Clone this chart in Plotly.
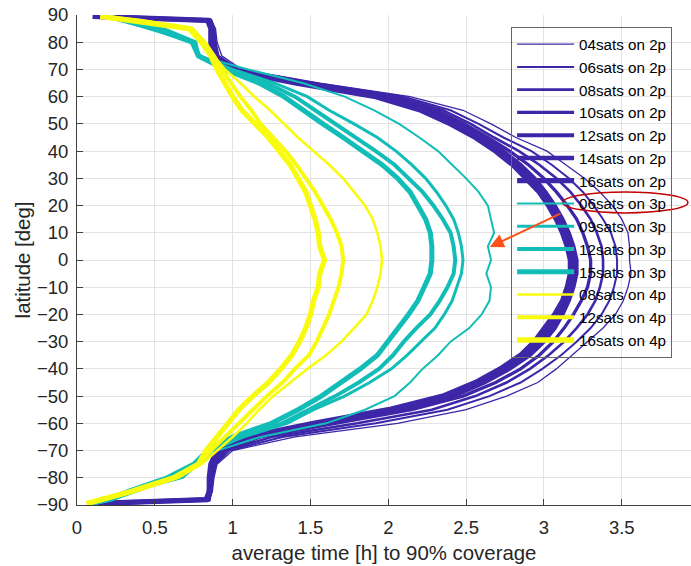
import plotly.graph_objects as go

LAT = [89.5, 88, 85, 80, 75, 70, 65, 60, 55, 50, 45, 40, 35, 30, 25, 20, 15, 10, 5, 0,
       -5, -10, -15, -20, -25, -30, -35, -40, -45, -50, -55, -60, -65, -70, -75, -80, -85, -88, -89.5]

NAMES = ["04sats on 2p", "06sats on 2p", "08sats on 2p", "10sats on 2p", "12sats on 2p",
         "14sats on 2p", "16sats on 2p", "06sats on 3p", "09sats on 3p", "12sats on 3p",
         "15sats on 3p", "08sats on 4p", "12sats on 4p", "16sats on 4p"]

p2_04 = [0.12, 0.86, 0.89, 0.90, 0.93, 1.06, 1.56, 2.14, 2.48, 2.66, 2.82, 3.02, 3.14, 3.26, 3.36, 3.44, 3.50, 3.54, 3.55, 3.55,
         3.56, 3.54, 3.51, 3.46, 3.38, 3.28, 3.18, 3.08, 2.96, 2.76, 2.50, 2.06, 1.40, 1.00, 0.90, 0.88, 0.87, 0.85, 0.10]
p2_06 = [0.12, 0.86, 0.88, 0.89, 0.91, 1.04, 1.53, 2.10, 2.40, 2.58, 2.74, 2.92, 3.05, 3.16, 3.25, 3.32, 3.38, 3.43, 3.46, 3.47,
         3.47, 3.45, 3.42, 3.37, 3.30, 3.21, 3.11, 2.99, 2.85, 2.65, 2.38, 1.92, 1.32, 0.98, 0.89, 0.87, 0.86, 0.85, 0.10]
p2_08 = [0.12, 0.86, 0.88, 0.89, 0.90, 1.02, 1.50, 2.06, 2.35, 2.53, 2.68, 2.84, 2.97, 3.08, 3.17, 3.24, 3.30, 3.34, 3.37, 3.38,
         3.38, 3.36, 3.33, 3.28, 3.21, 3.13, 3.03, 2.91, 2.76, 2.56, 2.28, 1.80, 1.25, 0.96, 0.89, 0.87, 0.86, 0.85, 0.10]
p2_10 = [0.12, 0.86, 0.88, 0.88, 0.89, 1.00, 1.48, 2.01, 2.31, 2.49, 2.64, 2.78, 2.90, 3.00, 3.08, 3.15, 3.21, 3.25, 3.28, 3.30,
         3.30, 3.28, 3.24, 3.19, 3.13, 3.06, 2.97, 2.85, 2.69, 2.48, 2.15, 1.66, 1.18, 0.94, 0.88, 0.87, 0.86, 0.85, 0.10]
p2_12 = [0.12, 0.85, 0.87, 0.87, 0.88, 0.98, 1.45, 1.97, 2.27, 2.45, 2.61, 2.74, 2.85, 2.94, 3.01, 3.07, 3.12, 3.16, 3.19, 3.21,
         3.21, 3.19, 3.16, 3.12, 3.07, 3.00, 2.91, 2.78, 2.62, 2.42, 2.07, 1.58, 1.13, 0.92, 0.87, 0.86, 0.86, 0.84, 0.10]
p2_14 = [0.11, 0.85, 0.87, 0.87, 0.88, 0.97, 1.43, 1.94, 2.24, 2.43, 2.58, 2.71, 2.82, 2.92, 2.99, 3.05, 3.10, 3.14, 3.17, 3.19,
         3.19, 3.17, 3.14, 3.10, 3.04, 2.97, 2.88, 2.75, 2.59, 2.38, 2.03, 1.55, 1.11, 0.91, 0.87, 0.86, 0.85, 0.84, 0.09]
p2_16 = [0.10, 0.84, 0.86, 0.86, 0.87, 0.96, 1.41, 1.92, 2.21, 2.40, 2.56, 2.69, 2.80, 2.89, 2.97, 3.03, 3.08, 3.12, 3.15, 3.17,
         3.17, 3.15, 3.12, 3.07, 3.01, 2.94, 2.85, 2.72, 2.56, 2.35, 2.00, 1.52, 1.09, 0.90, 0.86, 0.85, 0.85, 0.83, 0.09]

p3_06 = [0.22, 0.28, 0.45, 0.74, 0.78, 1.10, 1.45, 1.72, 1.91, 2.07, 2.20, 2.32, 2.41, 2.50, 2.58, 2.64, 2.66, 2.68, 2.64, 2.66,
         2.63, 2.66, 2.65, 2.60, 2.52, 2.40, 2.32, 2.22, 2.14, 2.04, 1.85, 1.60, 1.18, 0.90, 0.78, 0.68, 0.35, 0.22, 0.08]
p3_09 = [0.20, 0.30, 0.50, 0.75, 0.79, 1.00, 1.27, 1.48, 1.62, 1.78, 1.93, 2.05, 2.15, 2.24, 2.31, 2.37, 2.42, 2.45, 2.47, 2.48,
         2.47, 2.44, 2.41, 2.36, 2.30, 2.21, 2.12, 2.02, 1.88, 1.72, 1.52, 1.35, 1.07, 0.86, 0.77, 0.62, 0.38, 0.22, 0.10]
p3_12 = [0.20, 0.30, 0.55, 0.76, 0.78, 0.97, 1.22, 1.40, 1.53, 1.66, 1.80, 1.92, 2.04, 2.13, 2.22, 2.29, 2.35, 2.40, 2.42, 2.43,
         2.42, 2.38, 2.33, 2.27, 2.18, 2.10, 2.03, 1.94, 1.81, 1.66, 1.49, 1.32, 1.05, 0.86, 0.76, 0.60, 0.36, 0.22, 0.09]
p3_15 = [0.20, 0.30, 0.50, 0.74, 0.78, 0.95, 1.17, 1.33, 1.45, 1.58, 1.71, 1.84, 1.96, 2.06, 2.14, 2.19, 2.24, 2.27, 2.28, 2.28,
         2.27, 2.23, 2.19, 2.13, 2.06, 2.00, 1.93, 1.82, 1.70, 1.57, 1.42, 1.25, 1.00, 0.84, 0.75, 0.58, 0.33, 0.20, 0.08]

p4_08 = [0.15, 0.40, 0.73, 0.82, 0.88, 0.95, 1.05, 1.14, 1.24, 1.33, 1.42, 1.52, 1.62, 1.71, 1.78, 1.85, 1.90, 1.93, 1.95, 1.96,
         1.95, 1.93, 1.90, 1.86, 1.78, 1.70, 1.60, 1.48, 1.37, 1.26, 1.17, 1.09, 1.00, 0.90, 0.80, 0.65, 0.36, 0.18, 0.07]
p4_12 = [0.15, 0.40, 0.74, 0.82, 0.88, 0.93, 0.99, 1.05, 1.12, 1.18, 1.26, 1.34, 1.41, 1.47, 1.53, 1.58, 1.63, 1.67, 1.70, 1.71,
         1.70, 1.68, 1.65, 1.62, 1.58, 1.54, 1.49, 1.40, 1.32, 1.22, 1.13, 1.04, 0.95, 0.86, 0.78, 0.63, 0.36, 0.18, 0.07]
p4_16 = [0.15, 0.35, 0.72, 0.80, 0.86, 0.90, 0.95, 1.00, 1.06, 1.15, 1.23, 1.30, 1.37, 1.42, 1.47, 1.50, 1.53, 1.55, 1.56, 1.59,
         1.56, 1.55, 1.52, 1.50, 1.47, 1.43, 1.38, 1.31, 1.23, 1.13, 1.04, 0.97, 0.90, 0.83, 0.78, 0.62, 0.35, 0.15, 0.06]

SERIES = [p2_04, p2_06, p2_08, p2_10, p2_12, p2_14, p2_16, p3_06, p3_09, p3_12, p3_15, p4_08, p4_12, p4_16]

PURPLE = "#3E26A8"
TEAL = "#13BDB7"
YELLOW = "#F9FB0E"
COLORS = [PURPLE] * 7 + [TEAL] * 4 + [YELLOW] * 3
WIDTHS = [1.3, 2.0, 2.6, 3.3, 4.0, 4.6, 5.3, 2.0, 3.0, 4.0, 5.0, 2.6, 4.0, 5.3]

X_TICKS = [0, 0.5, 1, 1.5, 2, 2.5, 3, 3.5]
X_TICKTEXT = ["0", "0.5", "1", "1.5", "2", "2.5", "3", "3.5"]
Y_TICKS = list(range(-90, 91, 10))

FONT = "Liberation Sans, Arial, sans-serif"

fig = go.Figure()
for name, xs, c, w in zip(NAMES, SERIES, COLORS, WIDTHS):
    fig.add_trace(go.Scatter(x=xs, y=LAT, mode="lines", name=name,
                             line=dict(color=c, width=w)))

fig.update_layout(
    width=691, height=566,
    margin=dict(l=77, r=0, t=15, b=61),
    paper_bgcolor="white", plot_bgcolor="white",
    font=dict(family=FONT, color="#262626", size=18),
    showlegend=True,
    legend=dict(x=0.707, y=0.976, xanchor="left", yanchor="top",
                bgcolor="rgba(255,255,255,0)", bordercolor="#666666", borderwidth=1,
                font=dict(size=15.2, family=FONT, color="#000000"),
                tracegroupgap=0, itemwidth=57),
    xaxis=dict(range=[0, 3.945], tickvals=X_TICKS, ticktext=X_TICKTEXT,
               showgrid=True, gridcolor="#E3E3E3", gridwidth=1,
               showline=True, linecolor="#404040", linewidth=1, mirror=False,
               ticks="inside", ticklen=6, tickcolor="#404040", ticklabelstandoff=6,
               zeroline=False, tickfont=dict(size=18.5),
               title=dict(text="average time [h] to 90% coverage", font=dict(size=20.4), standoff=8)),
    yaxis=dict(range=[-90, 90], tickvals=Y_TICKS,
               showgrid=True, gridcolor="#E3E3E3", gridwidth=1,
               showline=True, linecolor="#404040", linewidth=1, mirror=False,
               ticks="inside", ticklen=6, tickcolor="#404040", ticklabelstandoff=4,
               zeroline=False, tickfont=dict(size=18.5),
               title=dict(text="latitude [deg]", font=dict(size=20.4), standoff=0)),
)

# red ellipse highlighting the 06sats on 3p legend entry
fig.add_shape(type="circle", xref="x", yref="y", x0=3.12, x1=3.925, y0=17.3, y1=25.0,
              line=dict(color="#C00000", width=1.5))
# orange arrow pointing at the 06sats on 3p curve
fig.add_annotation(x=2.652, y=4.8, ax=3.115, ay=17.3, xref="x", yref="y", axref="x", ayref="y",
                   showarrow=True, arrowhead=2, arrowsize=1.4, arrowwidth=2, arrowcolor="#FF5119", text="")

fig.write_html("out.html")
